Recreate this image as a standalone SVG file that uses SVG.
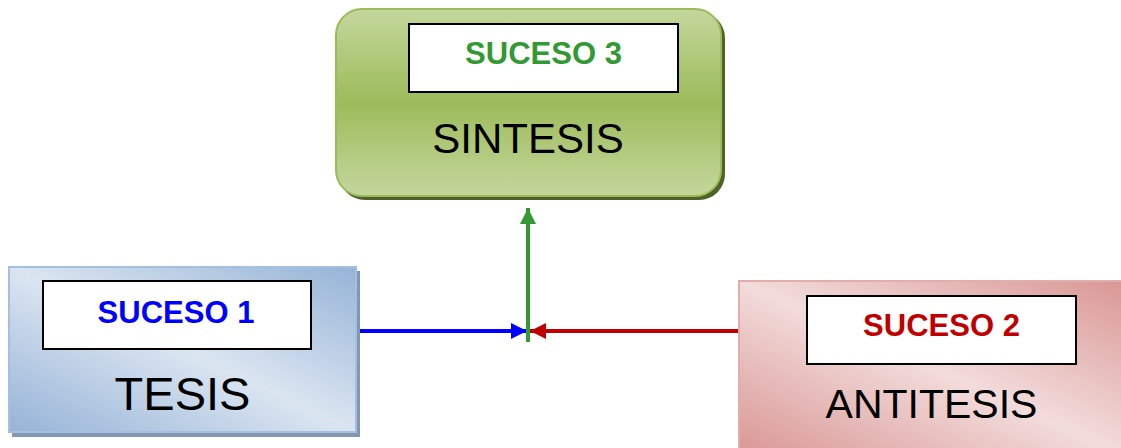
<svg xmlns="http://www.w3.org/2000/svg" width="1121" height="448" viewBox="0 0 1121 448">
  <style>
    .lbl { font-family: "Liberation Sans", Arial, sans-serif; font-weight: bold; font-size: 31px; text-anchor: middle; }
    .big { font-family: "Liberation Sans", Arial, sans-serif; fill: #000000; text-anchor: middle; }
    .inner { fill: #ffffff; stroke: #000000; stroke-width: 2; }
    .conn { fill: none; stroke-width: 4; }
  </style>
  <defs>
    <linearGradient id="gGreen" x1="0" y1="0" x2="0" y2="1">
      <stop offset="0" stop-color="#c4d79d"/>
      <stop offset="0.5" stop-color="#9dbb5a"/>
      <stop offset="1" stop-color="#c4d79d"/>
    </linearGradient>
    <linearGradient id="gBlue" x1="0" y1="1" x2="1" y2="0">
      <stop offset="0" stop-color="#95b3d7"/>
      <stop offset="0.5" stop-color="#dbe5f1"/>
      <stop offset="1" stop-color="#95b3d7"/>
    </linearGradient>
    <linearGradient id="gRed" x1="0" y1="1" x2="1" y2="0">
      <stop offset="0" stop-color="#d99694"/>
      <stop offset="0.5" stop-color="#f2dcdb"/>
      <stop offset="1" stop-color="#d99694"/>
    </linearGradient>
    <marker id="aBlue" viewBox="0 0 10 10" refX="10" refY="5" markerWidth="4" markerHeight="4" orient="auto" markerUnits="strokeWidth">
      <path d="M0,0 L10,5 L0,10 z" fill="#0000ff"/>
    </marker>
    <marker id="aRed" viewBox="0 0 10 10" refX="10" refY="5" markerWidth="4" markerHeight="4" orient="auto" markerUnits="strokeWidth">
      <path d="M0,0 L10,5 L0,10 z" fill="#c00000"/>
    </marker>
    <marker id="aGreen" viewBox="0 0 10 10" refX="10" refY="5" markerWidth="4" markerHeight="4" orient="auto" markerUnits="strokeWidth">
      <path d="M0,0 L10,5 L0,10 z" fill="#339933"/>
    </marker>
  </defs>

  <g id="connectors">
    <line class="conn" x1="357" y1="331" x2="527" y2="331" stroke="#0000ff" marker-end="url(#aBlue)"/>
    <line class="conn" x1="740" y1="331" x2="530" y2="331" stroke="#c00000" marker-end="url(#aRed)"/>
    <line class="conn" x1="528" y1="342" x2="528" y2="208" stroke="#339933" marker-end="url(#aGreen)"/>
  </g>

  <g id="node-sintesis">
    <rect x="339" y="12" width="386" height="188" rx="26" ry="26" fill="#4f6228"/>
    <rect x="336" y="9" width="385" height="187" rx="26" ry="26" fill="url(#gGreen)" stroke="#9bbb59" stroke-width="2"/>
    <rect class="inner" x="409" y="24" width="269" height="68"/>
    <text class="lbl" x="543.5" y="64" fill="#339933">SUCESO 3</text>
    <text class="big" x="528" y="153" font-size="42">SINTESIS</text>
  </g>

  <g id="node-tesis">
    <rect x="12" y="271" width="348" height="166" fill="#8497b0"/>
    <rect x="9" y="267" width="347" height="165" fill="url(#gBlue)" stroke="#a7bfde" stroke-width="2"/>
    <rect class="inner" x="43" y="281" width="268" height="68"/>
    <text class="lbl" x="176" y="323" fill="#0000ff">SUCESO 1</text>
    <text class="big" x="182.5" y="410" font-size="47">TESIS</text>
  </g>

  <g id="node-antitesis">
    <rect x="739" y="281" width="390" height="175" fill="url(#gRed)" stroke="#e2aeac" stroke-width="2"/>
    <rect class="inner" x="807" y="296" width="269" height="68"/>
    <text class="lbl" x="941.5" y="336" fill="#c00000">SUCESO 2</text>
    <text class="big" x="931.5" y="418" font-size="41">ANTITESIS</text>
  </g>
</svg>
